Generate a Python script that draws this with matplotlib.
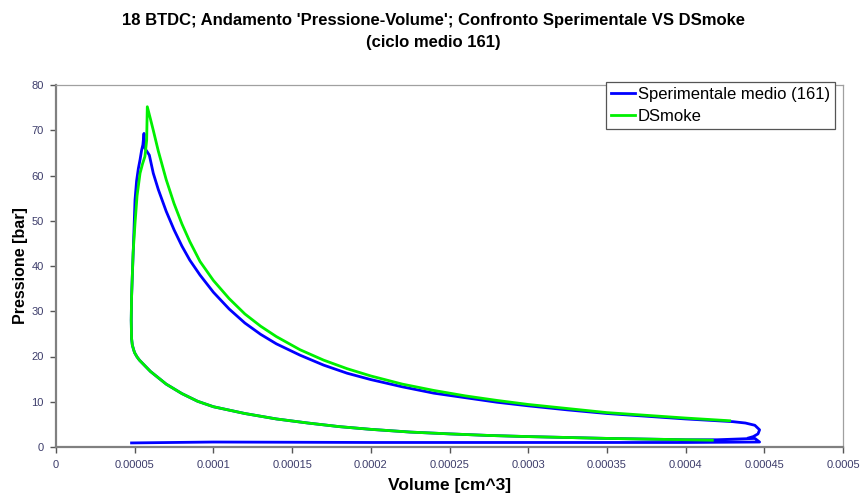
import matplotlib
matplotlib.use("Agg")
import matplotlib.pyplot as plt

plt.rcParams["font.family"] = ["Liberation Sans", "DejaVu Sans"]

# experimental mean cycle (161): low-pressure line, compression, combustion, expansion, loop at BDC
vol_exp = [4.8e-5, 1.0e-4, 2.0e-4, 3.0e-4, 4.0e-4, 4.47e-4,
           4.44e-4, 4.2e-4, 4.0e-4, 3.5e-4, 3.0e-4, 2.75e-4, 2.5e-4, 2.25e-4, 2.0e-4,
           1.8e-4, 1.6e-4, 1.4e-4, 1.2e-4, 1.0e-4, 9.0e-5, 8.0e-5, 7.0e-5, 6.0e-5,
           5.3e-5, 5.15e-5, 5.0e-5, 4.95e-5, 4.85e-5, 4.8e-5, 4.78e-5, 4.8e-5, 4.85e-5,
           4.91e-5, 5.02e-5, 5.12e-5, 5.23e-5, 5.34e-5, 5.44e-5, 5.52e-5, 5.59e-5, 5.65e-5,
           5.8e-5, 5.93e-5, 6.18e-5, 6.5e-5, 7.0e-5, 7.5e-5, 8.0e-5, 8.5e-5, 9.15e-5,
           1.0e-4, 1.1e-4, 1.2e-4, 1.3e-4, 1.4e-4, 1.55e-4, 1.7e-4, 1.85e-4, 2.0e-4,
           2.2e-4, 2.4e-4, 2.6e-4, 2.8e-4, 3.0e-4, 3.25e-4, 3.5e-4, 3.75e-4, 4.0e-4,
           4.2e-4, 4.3e-4, 4.38e-4, 4.44e-4, 4.47e-4, 4.46e-4, 4.43e-4, 4.4e-4]
p_exp = [0.9, 1.1, 1.0, 1.0, 1.0, 1.1,
         1.9, 1.6, 1.6, 1.9, 2.3, 2.55, 2.9, 3.3, 3.9,
         4.5, 5.3, 6.2, 7.4, 8.9, 10.1, 11.8, 13.9, 16.7,
         19.2, 19.9, 20.8, 21.3, 22.5, 24.0, 28.0, 33.0, 38.0,
         43.5, 54.6, 58.8, 61.5, 63.5, 65.6, 66.8, 69.3, 66.0,
         65.2, 64.5, 60.5, 56.9, 52.1, 48.0, 44.4, 41.3, 38.0,
         34.2, 30.5, 27.4, 24.9, 22.8, 20.3, 18.1, 16.3, 14.9,
         13.3, 11.9, 10.9, 9.9, 9.1, 8.2, 7.4, 6.8, 6.2,
         5.8, 5.6, 5.3, 4.8, 3.8, 2.9, 2.3, 2.0]

# DSmoke simulation: compression, combustion, expansion
vol_ds = [4.17e-4, 4.0e-4, 3.5e-4, 3.0e-4, 2.75e-4, 2.5e-4, 2.25e-4, 2.0e-4,
          1.8e-4, 1.6e-4, 1.4e-4, 1.2e-4, 1.0e-4, 9.0e-5, 8.0e-5, 7.0e-5, 6.0e-5,
          5.3e-5, 5.15e-5, 5.0e-5, 4.95e-5, 4.85e-5, 4.8e-5, 4.78e-5, 4.8e-5, 4.85e-5,
          4.9e-5, 5.02e-5, 5.15e-5, 5.34e-5, 5.5e-5, 5.65e-5, 5.76e-5, 5.8e-5,
          6.0e-5, 6.18e-5, 6.5e-5, 7.0e-5, 7.5e-5, 8.0e-5, 8.5e-5, 9.15e-5,
          1.0e-4, 1.1e-4, 1.2e-4, 1.3e-4, 1.4e-4, 1.55e-4, 1.7e-4, 1.85e-4, 2.0e-4,
          2.2e-4, 2.4e-4, 2.6e-4, 2.8e-4, 3.0e-4, 3.25e-4, 3.5e-4, 3.75e-4, 4.0e-4, 4.28e-4]
p_ds = [1.5, 1.6, 1.9, 2.3, 2.55, 2.9, 3.3, 3.9,
        4.5, 5.3, 6.2, 7.4, 8.9, 10.1, 11.8, 13.9, 16.7,
        19.2, 19.9, 20.8, 21.3, 22.5, 24.0, 28.0, 33.0, 38.0,
        43.0, 49.4, 55.5, 60.5, 62.6, 64.2, 67.8, 75.2,
        72.5, 70.0, 65.4, 59.1, 53.8, 49.3, 45.4, 41.0,
        36.8, 32.8, 29.4, 26.7, 24.4, 21.5, 19.2, 17.3, 15.7,
        13.9, 12.5, 11.3, 10.3, 9.4, 8.5, 7.6, 7.0, 6.4, 5.8]

x_ticks = [0, 0.00005, 0.0001, 0.00015, 0.0002, 0.00025, 0.0003, 0.00035, 0.0004, 0.00045, 0.0005]
x_labels = ["0", "0.00005", "0.0001", "0.00015", "0.0002", "0.00025", "0.0003",
            "0.00035", "0.0004", "0.00045", "0.0005"]
y_ticks = [0, 10, 20, 30, 40, 50, 60, 70, 80]

fig = plt.figure(figsize=(8.61, 4.95), dpi=100)
ax = fig.add_axes([56 / 861, 48 / 495, 787 / 861, 362 / 495])

ax.plot(vol_exp, p_exp, color="#0000ff", lw=2.0, label="Sperimentale medio (161)")
ax.plot(vol_ds, p_ds, color="#00f000", lw=2.0, label="DSmoke")

ax.set_xlim(0, 0.0005)
ax.set_ylim(0, 80)
ax.set_xticks(x_ticks)
ax.set_xticklabels(x_labels)
ax.set_yticks(y_ticks)
ax.tick_params(axis="both", direction="out", length=4, width=1, color="#555555",
               labelsize=8, labelcolor="#3d3d6b", pad=5)

for side in ["left", "bottom"]:
    ax.spines[side].set_color("#808080")
    ax.spines[side].set_linewidth(1.6)
for side in ["top", "right"]:
    ax.spines[side].set_color("#a0a0a0")
    ax.spines[side].set_linewidth(0.9)

ax.set_xlabel("Volume [cm^3]", fontsize=12.5, fontweight="bold", labelpad=6)
ax.set_ylabel("Pressione [bar]", fontsize=11.5, fontweight="bold", labelpad=2)

fig.suptitle("18 BTDC; Andamento 'Pressione-Volume'; Confronto Sperimentale VS DSmoke\n(ciclo medio 161)",
             x=433 / 861, y=1 - 13 / 495, fontsize=12, fontweight="bold", va="top", linespacing=1.55)

leg = ax.legend(loc="upper right", bbox_to_anchor=(0.990, 1.008), fontsize=12,
                frameon=True, fancybox=False, framealpha=1, edgecolor="#555555",
                handlelength=1.4, handletextpad=0.2, borderpad=0.3, labelspacing=0.4,
                borderaxespad=0)
leg.get_frame().set_linewidth(0.9)

fig.savefig("out.png", dpi=100)
